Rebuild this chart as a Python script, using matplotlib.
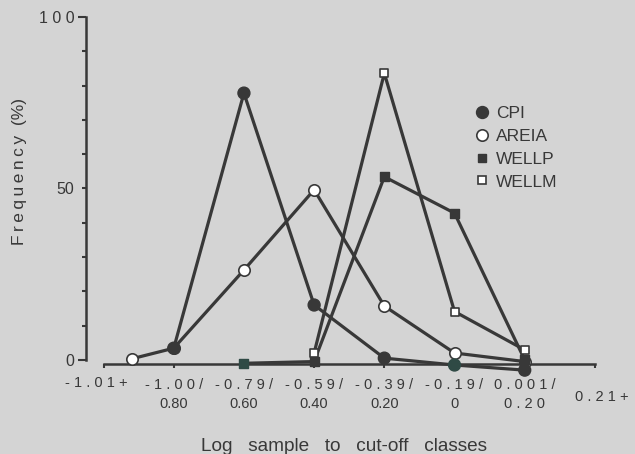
import matplotlib
matplotlib.use("Agg")
import matplotlib.pyplot as plt
from matplotlib.lines import Line2D
from matplotlib.ticker import FixedLocator, FuncFormatter

# ---------------- data ----------------
class_labels_top = ["-1.01+", "-1.00/", "-0.79/", "-0.59/", "-0.39/", "-0.19/", "0.001/", "0.21+"]
class_labels_bottom = ["", "0.80", "0.60", "0.40", "0.20", "0", "0 . 2 0", ""]

cpi_x = [1, 2, 3, 4, 5, 6]
cpi_y = [3.4, 77.8, 16.0, 0.5, -1.5, -3.0]

areia_x = [0.4, 1, 2, 3, 4, 5, 6]
areia_y = [0.3, 3.4, 26.2, 49.6, 15.7, 2.0, -0.5]

wellp_x = [2, 3, 4, 5, 6]
wellp_y = [-1.0, -0.5, 53.4, 42.8, 0.0]

wellm_x = [3, 4, 5, 6]
wellm_y = [2.0, 83.6, 14.1, 2.9]

# ---------------- style ----------------
BG = "#d4d4d4"
INK = "#383838"
GREEN = "#2f4a45"
plt.rcParams["font.family"] = ["Liberation Sans", "DejaVu Sans"]

def spaced(s, sep=" "):
    return sep.join(list(s))

fig = plt.figure(figsize=(6.35, 4.54), dpi=100, facecolor=BG)
ax = fig.add_axes([86 / 635, (454 - 377) / 454, 544 / 635, 360 / 454])
ax.set_facecolor(BG)
ax.set_xlim(-0.25, 7.5)
ax.set_ylim(-5, 100)

lw = 2.3
# lines
ax.plot(cpi_x, cpi_y, color=INK, lw=lw, zorder=3)
ax.plot(areia_x, areia_y, color=INK, lw=lw, zorder=3)
ax.plot(wellp_x, wellp_y, color=INK, lw=lw, zorder=3)
ax.plot(wellm_x, wellm_y, color=INK, lw=lw, zorder=3)

# markers
cpi_fc = [INK, INK, INK, INK, GREEN, INK]
wellp_fc = [GREEN, INK, INK, INK, INK]
ax.scatter(cpi_x, cpi_y, s=8.6 ** 2, marker="o", c=cpi_fc, edgecolors=cpi_fc, zorder=5)
ax.scatter(areia_x, areia_y, s=8.2 ** 2, marker="o", facecolors="white", edgecolors=INK,
           linewidths=1.2, zorder=4)
ax.scatter(wellp_x, wellp_y, s=6.4 ** 2, marker="s", c=wellp_fc, edgecolors=wellp_fc, zorder=4)
ax.scatter(wellm_x, wellm_y, s=6.2 ** 2, marker="s", facecolors="white", edgecolors=INK,
           linewidths=1.2, zorder=6)

# spines
for s in ["top", "right"]:
    ax.spines[s].set_visible(False)
ax.spines["left"].set_bounds(0, 100)
ax.spines["left"].set_linewidth(1.8)
ax.spines["left"].set_color(INK)
ax.spines["bottom"].set_position(("data", -1.2))
ax.spines["bottom"].set_bounds(0, 7)
ax.spines["bottom"].set_linewidth(1.8)
ax.spines["bottom"].set_color(INK)

# y ticks
ax.yaxis.set_major_locator(FixedLocator([0, 100]))
ax.yaxis.set_major_formatter(FuncFormatter(lambda v, p: "0" if v == 0 else spaced("100")))
ax.yaxis.set_minor_locator(FixedLocator(list(range(10, 100, 10))))
ax.yaxis.set_minor_formatter(FuncFormatter(lambda v, p: "50" if abs(v - 50) < 1e-6 else ""))
ax.tick_params(axis="y", which="major", length=5.5, width=1.5, color=INK,
               labelsize=11.5, labelcolor=INK, pad=3)
ax.tick_params(axis="y", which="minor", length=3, width=1.5, color=INK,
               labelsize=11.5, labelcolor=INK, pad=5.5)

# x ticks
ax.set_xticks(range(8))
xt = []
for i, (a, b) in enumerate(zip(class_labels_top, class_labels_bottom)):
    if i in (0, 7):
        xt.append("")
    else:
        xt.append(spaced(a) + "\n" + b)
ax.set_xticklabels(xt)
ax.tick_params(axis="x", length=3, width=1.5, color=INK, labelsize=10.5,
               labelcolor=INK, pad=7)
for t in ax.get_xticklabels():
    t.set_linespacing(1.5)

ax.text(-0.1, -6.7, spaced(class_labels_top[0]), ha="center", va="center",
        fontsize=10.5, color=INK)
ax.text(7.1, -10.8, spaced(class_labels_top[7]), ha="center", va="center",
        fontsize=10.5, color=INK)

ax.set_xlabel("Log   sample   to   cut-off   classes", fontsize=13.7, color=INK, labelpad=19)
ax.xaxis.label.set_x(0.474)
ax.set_ylabel(spaced("Frequency", "\u2009") + "  (%)", fontsize=12.5, color=INK)
ax.yaxis.set_label_coords(-0.108, 0.57)

# legend
handles = [
    Line2D([], [], ls="none", marker="o", ms=8.6, mfc=INK, mec=INK),
    Line2D([], [], ls="none", marker="o", ms=8.2, mfc="white", mec=INK, mew=1.2),
    Line2D([], [], ls="none", marker="s", ms=6.4, mfc=INK, mec=INK),
    Line2D([], [], ls="none", marker="s", ms=6.2, mfc="white", mec=INK, mew=1.2),
]
fig.legend(handles, ["CPI", "AREIA", "WELLP", "WELLM"], loc="upper left",
           bbox_to_anchor=(475 / 635, 1 - 105.5 / 454), frameon=False, borderpad=0,
           handlelength=0.8, handletextpad=0.4, labelspacing=0.45, fontsize=12.5,
           labelcolor=INK, borderaxespad=0)

fig.savefig("out.png", dpi=100, facecolor=BG)
